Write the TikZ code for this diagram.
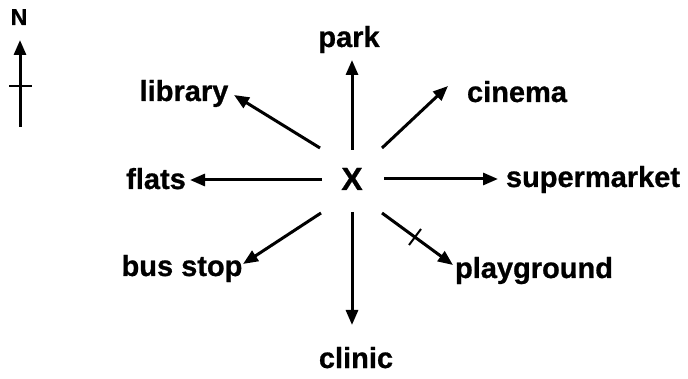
\documentclass[tikz,border=0pt]{standalone}
\usepackage{fontspec}
\setmainfont{Liberation Sans}[BoldFeatures={FakeBold=0.8}]
\usetikzlibrary{arrows.meta}
\begin{document}
\begin{tikzpicture}[x=1pt,y=-1pt,
  lbl/.style={font=\fontsize{29}{34}\selectfont\bfseries, inner sep=0pt, anchor=base},
  arr/.style={line width=3pt, -{Triangle[length=15pt,width=12pt]}},
  plain/.style={line width=2.8pt}]
\useasboundingbox (0,0) rectangle (688,379);
% North marker
\node[font=\fontsize{23}{27}\selectfont\bfseries, inner sep=0pt, anchor=base] (n) at (19,25) {N};
\coordinate (nb) at (20,127);
\coordinate (nt) at (20,40);
\draw[arr] (nb) -- (nt);
\coordinate (nl) at (9,86);
\coordinate (nr) at (32,86);
\draw[plain] (nl) -- (nr);
% centre
\node[lbl, font=\fontsize{32}{36}\selectfont\bfseries] (x) at (352,190) {X};
% labels
\node[lbl] (park) at (349,47) {park};
\node[lbl] (library) at (184,101) {library};
\node[lbl] (cinema) at (517,102) {cinema};
\node[lbl] (flats) at (156,189) {flats};
\node[lbl] (supermarket) at (593,187) {supermarket};
\node[lbl] (busstop) at (182,276) {bus stop};
\node[lbl] (playground) at (534,278) {playground};
\node[lbl] (clinic) at (356,368) {clinic};
% arrow ends
\coordinate (s1) at (352,150); \coordinate (e1) at (352,60);
\coordinate (s2) at (320,148); \coordinate (e2) at (234,95);
\coordinate (s3) at (382,148); \coordinate (e3) at (448,86);
\coordinate (s4) at (322,180); \coordinate (e4) at (190,180);
\coordinate (s5) at (384,179); \coordinate (e5) at (498,179);
\coordinate (s6) at (321,213); \coordinate (e6) at (243,264);
\coordinate (s7) at (352,212); \coordinate (e7) at (352,325);
\coordinate (s8) at (382,213); \coordinate (e8) at (453,265);
\draw[arr] (s1) -- (e1);
\draw[arr] (s2) -- (e2);
\draw[arr] (s3) -- (e3);
\draw[arr] (s4) -- (e4);
\draw[arr] (s5) -- (e5);
\draw[arr] (s6) -- (e6);
\draw[arr] (s7) -- (e7);
\draw[arr] (s8) -- (e8);
% tick on playground arrow
\coordinate (t1) at (409,245);
\coordinate (t2) at (421,229);
\draw[line width=2pt] (t1) -- (t2);
\end{tikzpicture}
\end{document}
